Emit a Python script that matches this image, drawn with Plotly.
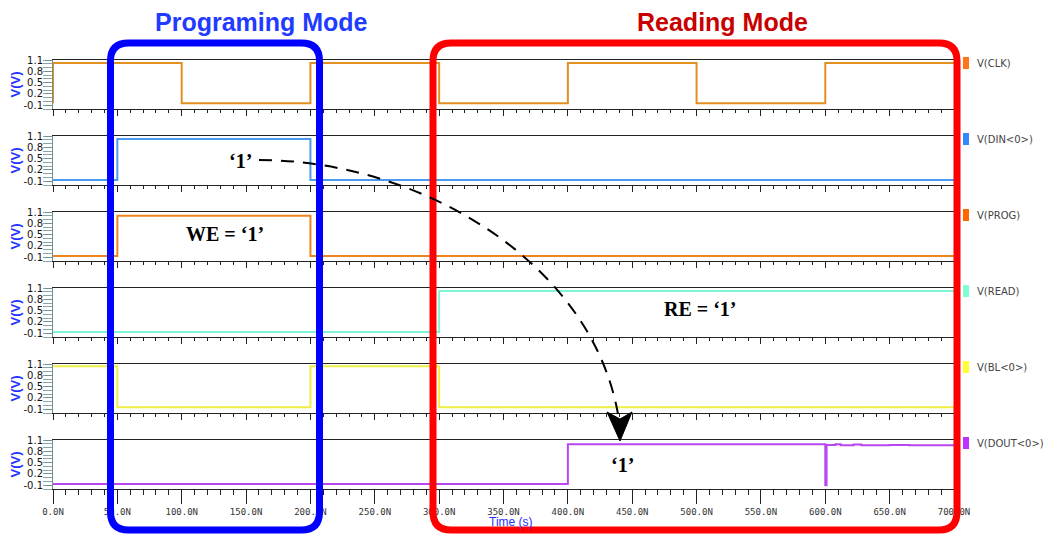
import plotly.graph_objects as go

W, H = 1052, 536
OFF = 8  # page body margin in the browser

# ---------------- data (time in ns, voltage in V) ----------------
signal_names = ["V(CLK)", "V(DIN&lt;0&gt;)", "V(PROG)", "V(READ)", "V(BL&lt;0&gt;)", "V(DOUT&lt;0&gt;)"]

clk_t = [0, 0, 100, 200, 300, 400, 500, 600, 700]
clk_v = [-0.05, 1.02, -0.05, 1.02, -0.05, 1.02, -0.05, 1.02, 1.02]

din_t = [0, 50, 200, 700]
din_v = [-0.07, 1.02, -0.07, -0.07]

prog_t = [0, 50, 200, 700]
prog_v = [-0.07, 1.0, -0.07, -0.07]

read_t = [0, 300, 700]
read_v = [-0.07, 1.02, 1.02]

bl_t = [0, 50, 200, 300, 700]
bl_v = [1.04, -0.05, 1.04, -0.05, -0.05]

dout_t = [0, 400, 600, 601, 608, 612, 622, 628, 650, 665, 700]
dout_v = [-0.07, 0.99, -0.1, 0.97, 0.99, 0.96, 0.98, 0.96, 0.97, 0.96, 0.96]

line_colors = ["#E39022", "#4A9BF0", "#EE8420", "#7FF5D8", "#EEEE44", "#B847F0"]
legend_colors = ["#FF7518", "#3388FF", "#FF6A00", "#7FFFD4", "#FFFF33", "#BB33FF"]

x_tick_vals = [0, 50, 100, 150, 200, 250, 300, 350, 400, 450, 500, 550, 600, 650, 700]
x_tick_text = ["0.0N", "50.0N", "100.0N", "150.0N", "200.0N", "250.0N", "300.0N",
               "350.0N", "400.0N", "450.0N", "500.0N", "550.0N", "600.0N", "650.0N", "700.0N"]
y_tick_vals = [1.1, 0.8, 0.5, 0.2, -0.1]
y_tick_text = ["1.1", "0.8", "0.5", "0.2", "-0.1"]

series = [(clk_t, clk_v), (din_t, din_v), (prog_t, prog_v),
          (read_t, read_v), (bl_t, bl_v), (dout_t, dout_v)]


def px(x):
    return (x - OFF) / W


def py(y):
    return 1 - (y - OFF) / H


panel_tops = [60, 136, 212, 288, 364, 440]
panel_h = 49

fig = go.Figure()
layout = {}
for i, ((t, v), col) in enumerate(zip(series, line_colors)):
    n = "" if i == 0 else str(i + 1)
    fig.add_trace(go.Scatter(x=t, y=v, mode="lines", line=dict(color=col, width=2, shape="hv"),
                             xaxis="x" + n, yaxis="y" + n, showlegend=False, hoverinfo="skip"))
    top = panel_tops[i]
    bottom = top + panel_h
    last = (i == 5)
    layout["xaxis" + n] = dict(
        domain=[px(53), px(954)], range=[0, 700], anchor="y" + n,
        showline=True, linecolor="#222", linewidth=1, mirror=True,
        showgrid=False, zeroline=False,
        ticks="outside", tickvals=x_tick_vals, ticktext=x_tick_text,
        ticklen=14 if last else 6, tickcolor="#222", tickwidth=1,
        minor=dict(dtick=10, ticks="outside", ticklen=5 if last else 3, tickcolor="#222"),
        showticklabels=last,
        tickfont=dict(family="DejaVu Sans Mono", size=9, color="#333"),
        automargin=False,
    )
    layout["yaxis" + n] = dict(
        domain=[py(bottom), py(top)], range=[-0.2, 1.1], anchor="x" + n,
        showline=True, linecolor="#6f9090", linewidth=1,
        showgrid=False, zeroline=False,
        ticks="outside", tickvals=y_tick_vals, ticktext=y_tick_text,
        ticklen=7, tickcolor="#6f9090",
        minor=dict(dtick=0.1, tick0=-0.1, ticks="outside", ticklen=9, tickcolor="#8aa5a5"),
        tickfont=dict(family="DejaVu Sans", size=10, color="#111"),
        title=dict(text="<b>V(V)</b>", font=dict(family="Liberation Sans", size=13, color="#2233ff"),
                   standoff=2),
        automargin=False,
    )

shapes = []
annotations = []

# right-hand signal labels
label_y = [63, 139, 215, 291, 367, 443]
for name, col, yy in zip(signal_names, legend_colors, label_y):
    shapes.append(dict(type="rect", xref="paper", yref="paper",
                       x0=px(963), x1=px(969), y0=py(yy + 6), y1=py(yy - 6),
                       fillcolor=col, line=dict(width=0)))
    annotations.append(dict(text=name, xref="paper", yref="paper", x=px(975), y=py(yy),
                            xanchor="left", yanchor="middle", showarrow=False,
                            font=dict(family="DejaVu Sans", size=10, color="#444")))


def rounded_box(x0, y0, x1, y1, r):
    P = lambda x, y: f"{px(x)},{py(y)}"
    return (f"M {P(x0 + r, y0)} L {P(x1 - r, y0)} Q {P(x1, y0)} {P(x1, y0 + r)} "
            f"L {P(x1, y1 - r)} Q {P(x1, y1)} {P(x1 - r, y1)} "
            f"L {P(x0 + r, y1)} Q {P(x0, y1)} {P(x0, y1 - r)} "
            f"L {P(x0, y0 + r)} Q {P(x0, y0)} {P(x0 + r, y0)} Z")


shapes.append(dict(type="path", xref="paper", yref="paper",
                   path=rounded_box(110.5, 43, 319.5, 530, 18),
                   line=dict(color="#0000FF", width=7)))
shapes.append(dict(type="path", xref="paper", yref="paper",
                   path=rounded_box(433, 43, 957, 530, 18),
                   line=dict(color="#FF0000", width=7)))

# dashed arrow
P = lambda x, y: f"{px(x)},{py(y)}"
shapes.append(dict(type="path", xref="paper", yref="paper",
                   path=f"M {P(259, 160)} C {P(415, 160)} {P(590, 258)} {P(618, 414)}",
                   line=dict(color="#000", width=2, dash="13px,9px")))
shapes.append(dict(type="path", xref="paper", yref="paper",
                   path=f"M {P(607, 412)} L {P(620, 441)} L {P(632, 412)} L {P(620, 419)} Z",
                   fillcolor="#000", line=dict(color="#000", width=1)))

# titles
annotations.append(dict(text="<b>Programing Mode</b>", xref="paper", yref="paper", x=px(261), y=py(22),
                        showarrow=False, xanchor="center", yanchor="middle",
                        font=dict(family="Liberation Sans", size=25, color="#1f3bff")))
annotations.append(dict(text="<b>Reading Mode</b>", xref="paper", yref="paper", x=px(722), y=py(22),
                        showarrow=False, xanchor="center", yanchor="middle",
                        font=dict(family="Liberation Sans", size=25, color="#C80000")))

serif = dict(family="Liberation Serif", size=20, color="#000")
for txt, x, y in [("<b>\u20181\u2019</b>", 240, 161), ("<b>WE = \u20181\u2019</b>", 225, 234),
                  ("<b>RE = \u20181\u2019</b>", 700, 309), ("<b>\u20181\u2019</b>", 622, 465)]:
    annotations.append(dict(text=txt, xref="paper", yref="paper", x=px(x), y=py(y),
                            showarrow=False, xanchor="center", yanchor="middle", font=serif))

annotations.append(dict(text="Time (s)", xref="paper", yref="paper", x=px(511), y=py(522),
                        showarrow=False, xanchor="center", yanchor="middle",
                        font=dict(family="Liberation Sans", size=12, color="#2233ff")))

fig.update_layout(width=W, height=H, margin=dict(l=0, r=0, t=0, b=0),
                  paper_bgcolor="white", plot_bgcolor="white",
                  shapes=shapes, annotations=annotations, **layout)

fig.write_html("out.html")
